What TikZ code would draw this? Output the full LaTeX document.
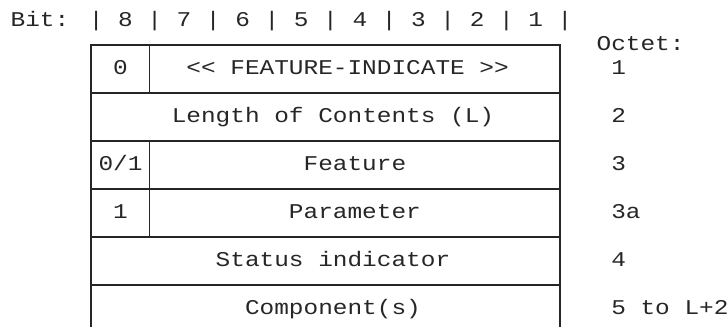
\documentclass[tikz,border=0pt]{standalone}
\usepackage{fontspec}
\newfontfamily\mono[FakeStretch=1.163]{Liberation Mono}
\begin{document}
\begin{tikzpicture}[x=1pt,y=-1pt,
  txt/.style={anchor=base west,inner sep=0pt,font=\mono\fontsize{21}{24}\selectfont,text=black!85},
  frame/.style={line width=1.5pt,draw=black!85}]
\useasboundingbox (0,0) rectangle (728,327);
% box lines
\coordinate (TL) at (91.0,45);
\coordinate (TR) at (559.8,45);
\coordinate (BL) at (91.0,327);
\coordinate (BR) at (559.8,327);
\draw[frame] (BL) -- (TL) -- (TR) -- (BR);
\foreach \yy in {93,141,189,237,285}{
  \draw[frame] (91.0,\yy) -- (559.8,\yy);
}
\draw[frame] (149.6,45) -- (149.6,93);
\draw[frame] (149.6,141) -- (149.6,237);
% header
\node[txt] (bit) at (10.4,26.7) {Bit: | 8 | 7 | 6 | 5 | 4 | 3 | 2 | 1 |};
\node[txt] (octet) at (596.4,50.7) {Octet:};
% row texts
\node[txt] (b1) at (112.95,74.7) {0};
\node[txt] (t1) at (186.2,74.7) {<< FEATURE-INDICATE >>};
\node[txt] (t2) at (171.55,122.7) {Length of Contents (L)};
\node[txt] (b3) at (98.3,170.7) {0/1};
\node[txt] (t3) at (303.4,170.7) {Feature};
\node[txt] (b3a) at (112.95,218.7) {1};
\node[txt] (t3a) at (288.75,218.7) {Parameter};
\node[txt] (t4) at (215.5,266.7) {Status indicator};
\node[txt] (t5) at (244.8,314.7) {Component(s)};
% octet numbers
\node[txt] (o1) at (611.05,74.7) {1};
\node[txt] (o2) at (611.05,122.7) {2};
\node[txt] (o3) at (611.05,170.7) {3};
\node[txt] (o3a) at (611.05,218.7) {3a};
\node[txt] (o4) at (611.05,266.7) {4};
\node[txt] (o5) at (611.05,314.7) {5 to L+2};
\end{tikzpicture}
\end{document}
